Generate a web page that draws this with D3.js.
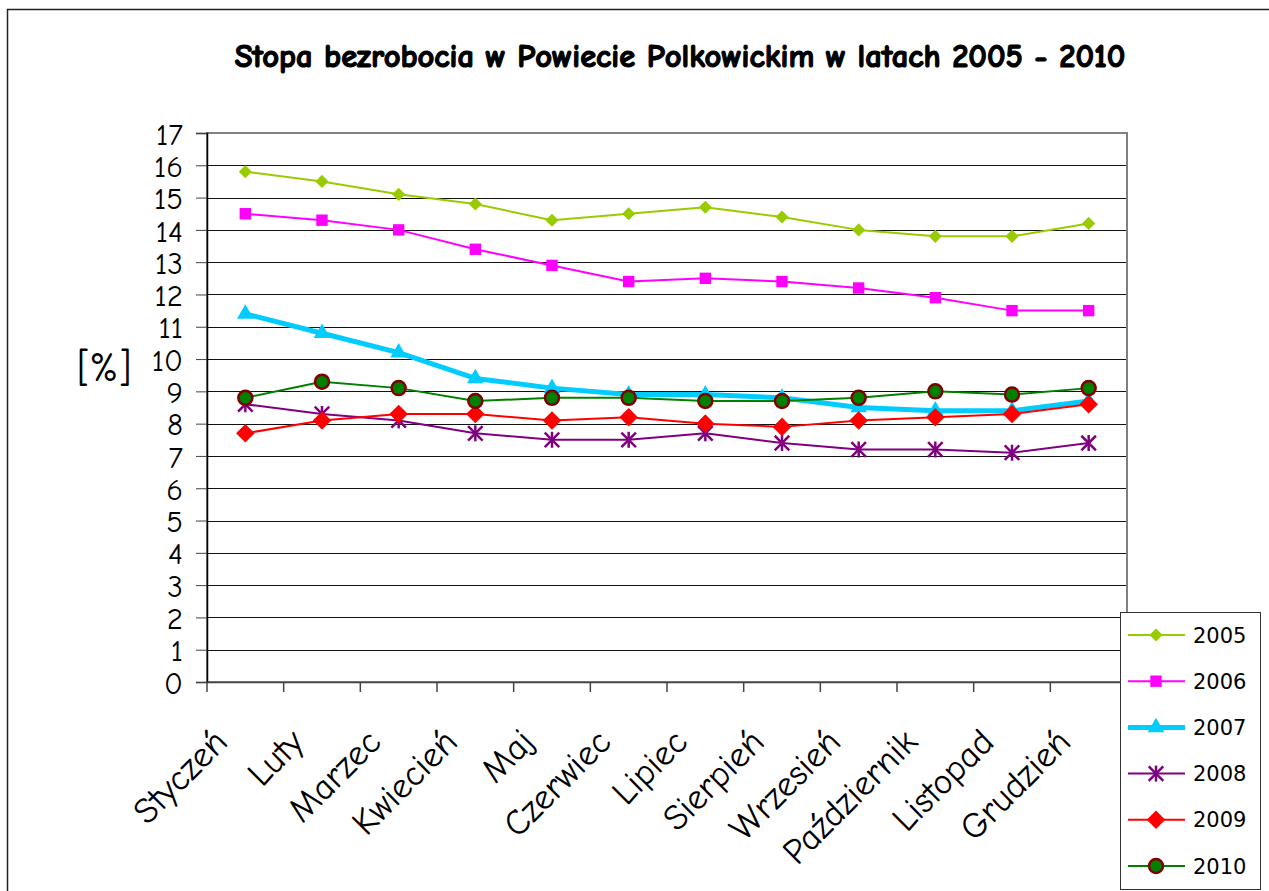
<!DOCTYPE html>
<html>
<head>
<meta charset="utf-8">
<script src="https://cdn.jsdelivr.net/npm/d3@7"></script>
<style>
  body { margin: 0; background: #fff; }
  text { font-family: "Comic Sans MS", "Comic Neue", "DejaVu Sans", sans-serif; }
</style>
</head>
<body>
<div id="chart"></div>
<script>
const months = ["Styczeń", "Luty", "Marzec", "Kwiecień", "Maj", "Czerwiec", "Lipiec", "Sierpień", "Wrzesień", "Październik", "Listopad", "Grudzień"];
const years = ["2005", "2006", "2007", "2008", "2009", "2010"];
const v2005 = [15.8, 15.5, 15.1, 14.8, 14.3, 14.5, 14.7, 14.4, 14.0, 13.8, 13.8, 14.2];
const v2006 = [14.5, 14.3, 14.0, 13.4, 12.9, 12.4, 12.5, 12.4, 12.2, 11.9, 11.5, 11.5];
const v2007 = [11.4, 10.8, 10.2, 9.4, 9.1, 8.9, 8.9, 8.8, 8.5, 8.4, 8.4, 8.7];
const v2008 = [8.6, 8.3, 8.1, 7.7, 7.5, 7.5, 7.7, 7.4, 7.2, 7.2, 7.1, 7.4];
const v2009 = [7.7, 8.1, 8.3, 8.3, 8.1, 8.2, 8.0, 7.9, 8.1, 8.2, 8.3, 8.6];
const v2010 = [8.8, 9.3, 9.1, 8.7, 8.8, 8.8, 8.7, 8.7, 8.8, 9.0, 8.9, 9.1];
const yTicks = d3.range(0, 18);

const series = [
  { name: years[0], values: v2005, color: "#99cc00", width: 2, marker: "diamond" },
  { name: years[1], values: v2006, color: "#ff00ff", width: 2, marker: "square" },
  { name: years[2], values: v2007, color: "#00ccff", width: 5, marker: "triangle" },
  { name: years[3], values: v2008, color: "#800080", width: 2, marker: "star" },
  { name: years[4], values: v2009, color: "#ff0000", width: 2, marker: "bigdiamond" },
  { name: years[5], values: v2010, color: "#008000", width: 2, marker: "circle" }
];

const W = 1269, H = 891;
const plotL = 207, plotR = 1127, plotT = 133, plotB = 682;

const svg = d3.select("#chart").append("svg").attr("width", W).attr("height", H);

// outer frame
svg.append("rect").attr("x", 7.5).attr("y", 9.5).attr("width", W).attr("height", H)
  .attr("fill", "none").attr("stroke", "#222").attr("stroke-width", 1.5);

const x = d3.scaleBand().domain(months).range([plotL, plotR]);
const y = d3.scaleLinear().domain([0, 17]).range([plotB, plotT]);

// title
svg.append("text").attr("x", 680).attr("y", 67).attr("text-anchor", "middle")
  .attr("font-size", 32.5).attr("font-weight", "bold")
  .attr("stroke", "#000").attr("stroke-width", 1.2)
  .text("Stopa bezrobocia w Powiecie Polkowickim w latach 2005 - 2010");

// gridlines
svg.append("g").selectAll("line").data(yTicks.slice(1, -1)).enter().append("line")
  .attr("x1", plotL).attr("x2", plotR)
  .attr("y1", d => Math.round(y(d)) + 0.5).attr("y2", d => Math.round(y(d)) + 0.5)
  .attr("stroke", "#111").attr("stroke-width", 1);

// plot frame
svg.append("rect").attr("x", plotL).attr("y", plotT).attr("width", plotR - plotL).attr("height", plotB - plotT)
  .attr("fill", "none").attr("stroke", "#808080").attr("stroke-width", 2);

// y axis
const yAxis = svg.append("g").attr("transform", `translate(${plotL},0)`)
  .call(d3.axisLeft(y).tickValues(yTicks).tickSize(11).tickPadding(13).tickFormat(d3.format("d")));
yAxis.select(".domain").attr("stroke", "#000").attr("stroke-width", 1.5);
yAxis.selectAll(".tick line").attr("stroke", "#444");
yAxis.selectAll("text").attr("font-size", 31).attr("fill", "#000").attr("dy", "0.36em")
  .style("font-family", "\"Comic Sans MS\", \"Comic Neue\", \"DejaVu Sans\", sans-serif");

// x axis
const xAxis = svg.append("g").attr("transform", `translate(0,${plotB})`)
  .call(d3.axisBottom(x).tickSize(0).tickFormat(""));
xAxis.select(".domain").attr("stroke", "#444").attr("stroke-width", 1.5);
const bounds = months.map(m => x(m));
xAxis.append("g").selectAll("line").data(bounds).enter().append("line")
  .attr("x1", d => d).attr("x2", d => d).attr("y1", 0).attr("y2", 10)
  .attr("stroke", "#444").attr("stroke-width", 1.5);
xAxis.append("g").selectAll("text").data(months).enter().append("text")
  .attr("transform", d => `translate(${x(d) + x.bandwidth() / 2 - 16},${62}) rotate(-45)`)
  .attr("text-anchor", "end").attr("font-size", 36).attr("fill", "#000")
  .text(d => d);

// y label
svg.append("text").attr("x", 104).attr("y", 381).attr("text-anchor", "middle")
  .attr("font-size", 40).text("[%]");

// markers
const symbolMap = {
  diamond: d3.symbol().type(d3.symbolDiamond2).size(110),
  square: d3.symbol().type(d3.symbolSquare).size(130),
  triangle: d3.symbol().type(d3.symbolTriangle).size(120),
  star: d3.symbol().type(d3.symbolTimes).size(140),
  bigdiamond: d3.symbol().type(d3.symbolDiamond2).size(220)
};

function drawMarker(g, s) {
  if (s.marker === "circle") {
    g.append("circle").attr("r", 7).attr("fill", s.color).attr("stroke", "#800000").attr("stroke-width", 2.5);
  } else if (s.marker === "star") {
    g.append("path").attr("d", symbolMap.star()).attr("stroke", s.color).attr("stroke-width", 2.5).attr("fill", "none");
    g.append("line").attr("x1", 0).attr("x2", 0).attr("y1", -8).attr("y2", 8).attr("stroke", s.color).attr("stroke-width", 2.5);
  } else {
    g.append("path").attr("d", symbolMap[s.marker]()).attr("fill", s.color);
  }
}

const line = d3.line().x((d, i) => x(months[i]) + x.bandwidth() / 2).y(d => y(d));

series.forEach(s => {
  const g = svg.append("g");
  g.append("path").datum(s.values).attr("d", line)
    .attr("fill", "none").attr("stroke", s.color).attr("stroke-width", s.width).attr("stroke-linejoin", "round");
  g.selectAll("g.m").data(s.values).enter().append("g").attr("class", "m")
    .attr("transform", (d, i) => `translate(${x(months[i]) + x.bandwidth() / 2},${y(d)})`)
    .each(function () { drawMarker(d3.select(this), s); });
});

// legend
const lg = svg.append("g").attr("transform", "translate(1120,612)");
lg.append("rect").attr("x", 0.5).attr("y", 0.5).attr("width", 140).attr("height", 277)
  .attr("fill", "#fff").attr("stroke", "#333").attr("stroke-width", 1);
series.forEach((s, i) => {
  const row = lg.append("g").attr("transform", `translate(0,${23 + i * 46.2})`);
  row.append("line").attr("x1", 8).attr("x2", 65).attr("y1", 0).attr("y2", 0)
    .attr("stroke", s.color).attr("stroke-width", s.width);
  drawMarker(row.append("g").attr("transform", "translate(36,0)"), s);
  row.append("text").attr("x", 73).attr("y", 0).attr("dy", "0.36em")
    .attr("font-size", 21).style("font-family", "\"DejaVu Sans\", Verdana, sans-serif").text(s.name);
});
</script>
</body>
</html>
